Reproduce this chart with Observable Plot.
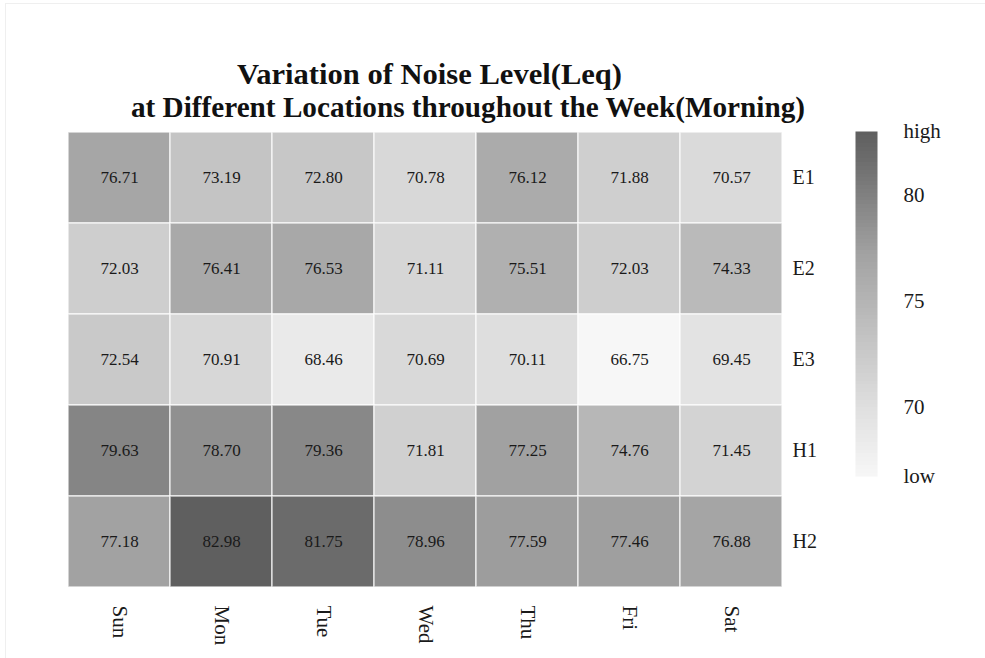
<!DOCTYPE html>
<html>
<head>
<meta charset="utf-8">
<script src="https://cdn.jsdelivr.net/npm/d3@7"></script>
<script src="https://cdn.jsdelivr.net/npm/@observablehq/plot@0.6"></script>
<style>
  html, body { margin: 0; padding: 0; background: #fff; }
  body { font-family: "Liberation Serif", "Times New Roman", serif; }
  #wrap { position: relative; width: 985px; height: 658px; overflow: hidden; background: #fff; }
  #frame { position: absolute; left: 5px; top: 3px; width: 985px; height: 660px;
           border-left: 1px solid #efefef; border-top: 1px solid #efefef; }
  #title { position: absolute; left: 0; top: 0; z-index: 2; }
  #main { position: absolute; left: 0; top: 120px; z-index: 1; }
  #legend { position: absolute; left: 840px; top: 120px; z-index: 1; }
</style>
</head>
<body>
<div id="wrap">
  <div id="frame"></div>
  <svg id="title" width="985" height="130" xmlns="http://www.w3.org/2000/svg"
       font-family="Liberation Serif, Times New Roman, serif" font-weight="bold" font-size="29.5" fill="#111">
    <text x="237" y="84" textLength="385" lengthAdjust="spacingAndGlyphs">Variation of Noise Level(Leq)</text>
    <text x="131" y="117" textLength="674" lengthAdjust="spacingAndGlyphs">at Different Locations throughout the Week(Morning)</text>
  </svg>
  <div id="main"></div>
  <div id="legend"></div>
</div>
<script>
// ---- data ----
const days = ["Sun", "Mon", "Tue", "Wed", "Thu", "Fri", "Sat"];
const locations = ["E1", "E2", "E3", "H1", "H2"];
const E1 = [76.71, 73.19, 72.80, 70.78, 76.12, 71.88, 70.57];
const E2 = [72.03, 76.41, 76.53, 71.11, 75.51, 72.03, 74.33];
const E3 = [72.54, 70.91, 68.46, 70.69, 70.11, 66.75, 69.45];
const H1 = [79.63, 78.70, 79.36, 71.81, 77.25, 74.76, 71.45];
const H2 = [77.18, 82.98, 81.75, 78.96, 77.59, 77.46, 76.88];
const legendTicks = [70, 75, 80];
const legendEnds = ["low", "high"];

// ---- table built from the arrays ----
const series = {E1, E2, E3, H1, H2};
const table = [];
for (const loc of locations) {
  series[loc].forEach((v, i) => table.push({loc, day: days[i], value: v}));
}
const vmin = d3.min(table, d => d.value);
const vmax = d3.max(table, d => d.value);

const colorScale = {
  type: "linear",
  domain: [vmin, 70.11, 77.18, 81.75, vmax],
  range: ["#f7f7f7", "#dedede", "#a2a2a2", "#6b6b6b", "#5f5f5f"],
  interpolate: "rgb"
};

const font = "Liberation Serif, Times New Roman, serif";

const main = Plot.plot({
  width: 985,
  height: 538,
  marginTop: 11,
  marginBottom: 70,
  marginLeft: 66,
  marginRight: 201,
  style: {fontFamily: font, background: "transparent", color: "#1a1a1a"},
  x: {domain: days, padding: 0},
  y: {domain: locations, padding: 0},
  color: colorScale,
  marks: [
    Plot.cell(table, {x: "day", y: "loc", fill: "value", stroke: "white", strokeWidth: 1.5, strokeOpacity: 0.7}),
    Plot.text(table, {x: "day", y: "loc", text: d => d.value.toFixed(2), fontSize: 17, fill: "#1a1a1a"}),
    Plot.axisY({anchor: "right", tickSize: 0, tickPadding: 8, fontSize: 20, label: null}),
    Plot.axisX({anchor: "bottom", tickSize: 0, tickPadding: 17, tickRotate: 90, fontSize: 21, label: null})
  ]
});
document.getElementById("main").appendChild(main);

const legend = Plot.plot({
  width: 145,
  height: 400,
  margin: 0,
  style: {fontFamily: font, background: "transparent", color: "#1a1a1a"},
  x: {domain: [0, 1], range: [15, 37], axis: null},
  y: {domain: [vmin, vmax], range: [356, 11], axis: null},
  color: colorScale,
  marks: [
    Plot.raster({x1: 0, x2: 1, y1: vmin, y2: vmax, width: 1, height: 90, fill: (x, y) => y, imageRendering: "pixelated"}),
    Plot.text(legendTicks, {x: 1, y: d => d, text: d => String(d), dx: 26, textAnchor: "start", fontSize: 21, fill: "#1a1a1a"}),
    Plot.text(legendEnds, {x: 1, y: d => (d === "high" ? vmax : vmin), text: d => d, dx: 26, textAnchor: "start", fontSize: 21, fill: "#1a1a1a"})
  ]
});
document.getElementById("legend").appendChild(legend);
</script>
</body>
</html>
